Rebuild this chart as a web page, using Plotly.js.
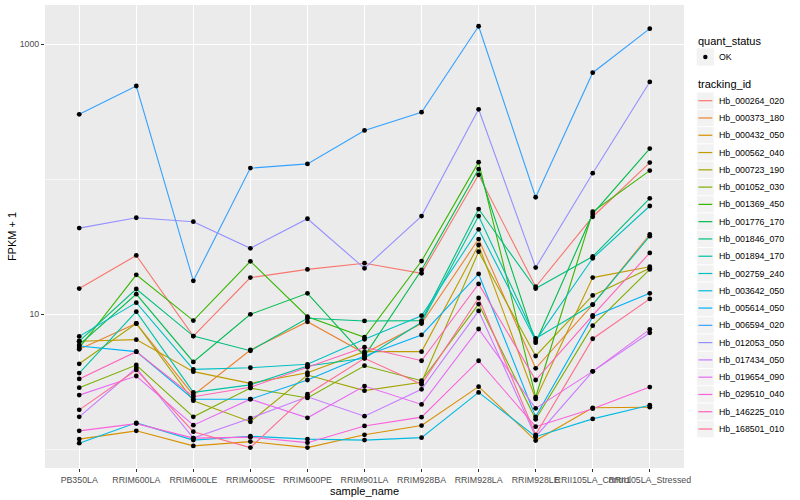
<!DOCTYPE html>
<html><head><meta charset="utf-8">
<script src="https://cdn.plot.ly/plotly-3.0.1.min.js"></script>
<style>html,body{margin:0;padding:0;background:#fff}#chart{width:800px;height:500px}</style>
</head><body><div id="chart"></div>
<script>
const samples = ['PB350LA','RRIM600LA','RRIM600LE','RRIM600SE','RRIM600PE','RRIM901LA','RRIM928BA','RRIM928LA','RRIM928LE','RRII105LA_Control','RRII105LA_Stressed'];
const trackingIds = ['Hb_000264_020','Hb_000373_180','Hb_000432_050','Hb_000562_040','Hb_000723_190','Hb_001052_030','Hb_001369_450','Hb_001776_170','Hb_001846_070','Hb_001894_170','Hb_002759_240','Hb_003642_050','Hb_005614_050','Hb_006594_020','Hb_012053_050','Hb_017434_050','Hb_019654_090','Hb_029510_040','Hb_146225_010','Hb_168501_010'];
const quantStatus = 'OK';
const yTickVals = [10, 1000];
const yMinorVals = [1, 100];

const Hb_000264_020 = [15.5, 27.3, 6.9, 18.7, 21.5, 23.9, 20.1, 108, 16.0, 52.8, 133];
const Hb_000373_180 = [5.51, 8.55, 2.52, 5.44, 8.81, 5.14, 8.55, 36.1, 3.98, 11.8, 39.0];
const Hb_000432_050 = [1.19, 1.37, 1.06, 1.14, 1.03, 1.28, 1.50, 2.91, 1.16, 2.03, 2.05];
const Hb_000562_040 = [6.32, 6.49, 3.76, 3.08, 3.69, 5.29, 5.29, 32.6, 2.36, 18.7, 22.5];
const Hb_000723_190 = [4.30, 8.55, 2.29, 1.60, 3.55, 2.72, 3.14, 29.1, 4.91, 13.8, 21.9];
const Hb_001052_030 = [2.86, 4.21, 1.74, 2.84, 2.40, 4.16, 3.22, 11.9, 1.67, 8.24, 21.5];
const Hb_001369_450 = [5.63, 19.6, 8.98, 24.7, 9.6, 6.76, 24.8, 134, 2.43, 57.5, 116];
const Hb_001776_170 = [5.93, 14.1, 4.44, 10.0, 14.3, 4.91, 21.3, 119, 6.16, 55.4, 169];
const Hb_001846_070 = [6.32, 15.4, 6.9, 5.37, 9.34, 8.93, 8.98, 60.2, 15.5, 26.8, 72.3];
const Hb_001894_170 = [3.67, 10.45, 2.64, 3.0, 4.14, 4.72, 8.72, 53.4, 6.63, 11.8, 37.9];
const Hb_002759_240 = [6.86, 12.2, 3.91, 4.02, 4.26, 6.53, 9.76, 42.6, 6.38, 26.0, 63.4];
const Hb_003642_050 = [1.11, 1.57, 1.17, 1.25, 1.19, 1.17, 1.22, 2.64, 1.24, 1.68, 2.12];
const Hb_005614_050 = [5.83, 5.29, 2.35, 2.35, 3.26, 4.91, 7.03, 19.9, 1.74, 9.6, 14.3];
const Hb_006594_020 = [303, 491, 17.7, 121, 130, 230, 314, 1360, 73.6, 616, 1305];
const Hb_012053_050 = [43.5, 51.9, 48.5, 30.8, 51, 21.9, 53.4, 330, 22.2, 111, 526];
const Hb_017434_050 = [1.74, 4.0, 1.21, 1.70, 2.45, 1.76, 2.78, 10.6, 1.24, 3.78, 7.3];
const Hb_019654_090 = [2.52, 3.49, 1.51, 2.35, 1.71, 2.94, 2.15, 7.78, 2.01, 3.78, 7.74];
const Hb_029510_040 = [1.37, 1.55, 1.21, 1.23, 1.12, 1.49, 1.73, 4.53, 1.47, 2.0, 2.89];
const Hb_146225_010 = [3.32, 5.29, 2.45, 2.88, 4.05, 5.70, 4.53, 16.8, 3.26, 9.8, 28.5];
const Hb_168501_010 = [1.96, 3.87, 1.35, 1.03, 2.56, 4.72, 3.03, 13.2, 1.28, 6.59, 13.0];

const seriesValues = [Hb_000264_020, Hb_000373_180, Hb_000432_050, Hb_000562_040, Hb_000723_190, Hb_001052_030, Hb_001369_450, Hb_001776_170, Hb_001846_070, Hb_001894_170, Hb_002759_240, Hb_003642_050, Hb_005614_050, Hb_006594_020, Hb_012053_050, Hb_017434_050, Hb_019654_090, Hb_029510_040, Hb_146225_010, Hb_168501_010];
const colors = ['#F8766D','#EA8331','#D89000','#C09B00','#A3A500','#7CAE00','#39B600','#00BB4E','#00BF7D','#00C1A3','#00BFC4','#00BAE0','#00B0F6','#35A2FF','#9590FF','#C77CFF','#E76BF3','#FA62DB','#FF62BC','#FF6C91'];

const W = 800, H = 500, PL = 45, PR = 684, PT = 5, PB = 468;
const FONT = 'Liberation Sans, Arial, Helvetica, sans-serif';

const traces = [];
seriesValues.forEach((vals, i) => {
  traces.push({type:'scatter', mode:'lines', x:samples, y:vals, name:trackingIds[i],
    line:{color:colors[i], width:1.1}, showlegend:false, hoverinfo:'x+y+name'});
});
seriesValues.forEach((vals, i) => {
  traces.push({type:'scatter', mode:'markers', x:samples, y:vals, name:quantStatus,
    marker:{color:'#000000', size:4.8}, showlegend:false, hoverinfo:'skip'});
});

// manual ggplot-style legend (layout only)
const px = v => (v - PL) / (PR - PL);
const py = v => (PB - v) / (PB - PT);
const shapes = [], annotations = [];
const keyX0 = 696.7, keyX1 = 714, keyH = 17.28, labelX = 716.5;
annotations.push({xref:'paper', yref:'paper', x:px(696), y:py(41), xanchor:'left', yanchor:'middle', showarrow:false, text:'quant_status', font:{size:11, color:'#000', family:FONT}});
shapes.push({type:'rect', xref:'paper', yref:'paper', x0:px(keyX0), x1:px(keyX1), y0:py(48.3), y1:py(65.6), fillcolor:'#F2F2F2', line:{width:0}});
shapes.push({type:'circle', xref:'paper', yref:'paper', x0:px(705.35-2.2), x1:px(705.35+2.2), y0:py(57-2.2), y1:py(57+2.2), fillcolor:'#000', line:{width:0}});
annotations.push({xref:'paper', yref:'paper', x:px(labelX), y:py(57), xanchor:'left', yanchor:'middle', showarrow:false, text:quantStatus, font:{size:8.8, color:'#000', family:FONT}});
annotations.push({xref:'paper', yref:'paper', x:px(696), y:py(84.5), xanchor:'left', yanchor:'middle', showarrow:false, text:'tracking_id', font:{size:11, color:'#000', family:FONT}});
trackingIds.forEach((id, i) => {
  const cy = 100.7 + keyH * i;
  shapes.push({type:'rect', xref:'paper', yref:'paper', x0:px(keyX0), x1:px(keyX1), y0:py(cy - keyH/2), y1:py(cy + keyH/2), fillcolor:'#F2F2F2', line:{color:'#FFFFFF', width:0.8}});
  shapes.push({type:'line', xref:'paper', yref:'paper', x0:px(698.4), x1:px(712.3), y0:py(cy), y1:py(cy), line:{color:colors[i], width:1.2}});
  annotations.push({xref:'paper', yref:'paper', x:px(labelX), y:py(cy), xanchor:'left', yanchor:'middle', showarrow:false, text:id, font:{size:8.8, color:'#000', family:FONT}});
});

const layout = {
  width:W, height:H,
  margin:{l:PL, r:W-PR, t:PT, b:H-PB, pad:0},
  paper_bgcolor:'#FFFFFF', plot_bgcolor:'#EBEBEB',
  font:{family:FONT, color:'#000'},
  showlegend:false,
  xaxis:{type:'category', categoryorder:'array', categoryarray:samples, range:[-0.6, 10.6],
    showgrid:true, gridcolor:'#FFFFFF', gridwidth:1.1, zeroline:false, showline:false,
    ticks:'outside', ticklen:3, tickwidth:1, tickcolor:'#333333', tickangle:0,
    tickfont:{size:8.8, color:'#4D4D4D', family:FONT},
    title:{text:'sample_name', font:{size:11, color:'#000', family:FONT}, standoff:0}},
  yaxis:{type:'log', range:[-0.1385, 3.291], tickmode:'array', tickvals:yTickVals, ticktext:yTickVals.map(String),
    showgrid:true, gridcolor:'#FFFFFF', gridwidth:1.1, zeroline:false, showline:false,
    minor:{tickmode:'array', tickvals:yMinorVals, showgrid:true, gridcolor:'#FFFFFF', gridwidth:0.55, ticks:''},
    ticks:'outside', ticklen:3, tickwidth:1, tickcolor:'#333333',
    tickfont:{size:8.8, color:'#4D4D4D', family:FONT},
    title:{text:'FPKM + 1', font:{size:11, color:'#000', family:FONT}, standoff:0}},
  shapes:shapes, annotations:annotations
};

Plotly.newPlot('chart', traces, layout, {displayModeBar:false, staticPlot:true});
</script></body></html>
